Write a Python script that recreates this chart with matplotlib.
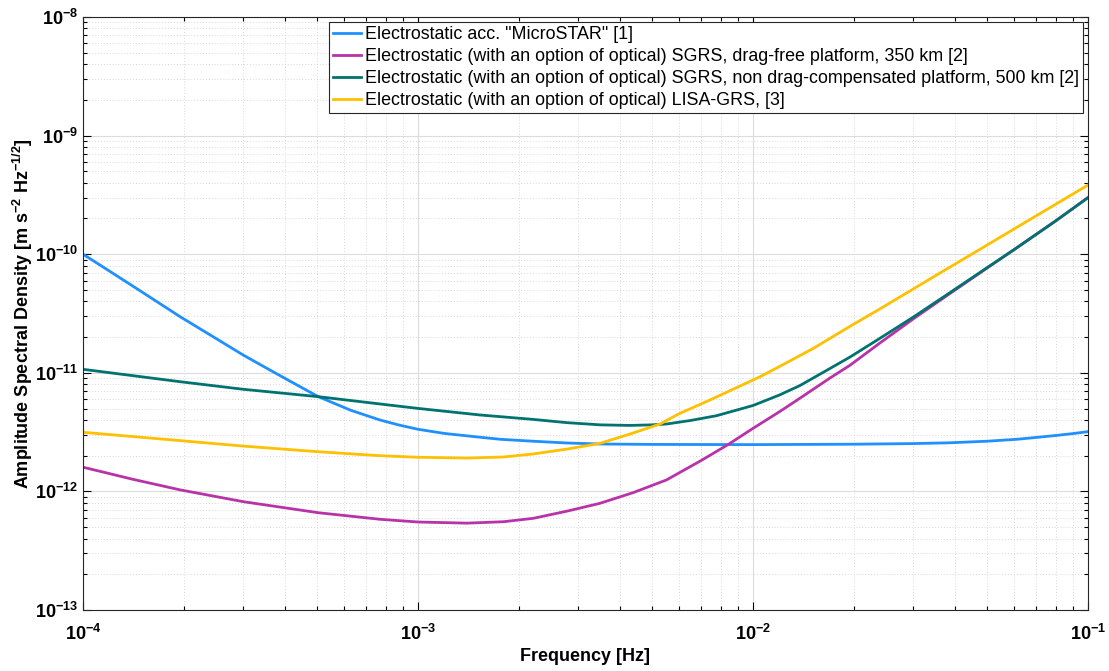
import numpy as np
import matplotlib
matplotlib.use("Agg")
import matplotlib.pyplot as plt
from matplotlib.ticker import FixedLocator, FuncFormatter, NullFormatter

plt.rcParams['font.family'] = ['Liberation Sans', 'DejaVu Sans']
plt.rcParams['mathtext.fontset'] = 'custom'
plt.rcParams['mathtext.rm'] = 'Liberation Sans'
plt.rcParams['mathtext.bf'] = 'Liberation Sans:bold'
plt.rcParams['mathtext.it'] = 'Liberation Sans:italic'

# values (frequency in Hz, ASD in m s^-2 Hz^-1/2)
microstar_f = [1.0e-4, 1.2e-4, 1.5e-4, 1.95e-4, 2.5e-4, 3.01e-4, 3.5e-4, 4.0e-4,
               5.04e-4, 6.3e-4, 7.7e-4, 8.8e-4, 1.0e-3, 1.2e-3, 1.5e-3, 1.76e-3,
               2.2e-3, 2.78e-3, 3.5e-3, 5.0e-3, 1.0e-2, 2.0e-2, 3.0e-2, 3.87e-2,
               5.0e-2, 6.12e-2, 7.0e-2, 8.0e-2, 9.0e-2, 1.0e-1]
microstar_asd = [1.0e-10, 7.2e-11, 4.8e-11, 2.97e-11, 1.94e-11, 1.41e-11, 1.11e-11, 9.0e-12,
                 6.29e-12, 4.83e-12, 4.0e-12, 3.62e-12, 3.34e-12, 3.08e-12, 2.88e-12, 2.75e-12,
                 2.65e-12, 2.56e-12, 2.51e-12, 2.49e-12, 2.48e-12, 2.50e-12, 2.53e-12, 2.57e-12,
                 2.65e-12, 2.75e-12, 2.85e-12, 2.96e-12, 3.07e-12, 3.19e-12]

sgrs350_f = [1.0e-4, 1.4e-4, 1.95e-4, 3.01e-4, 5.04e-4, 7.7e-4, 1.0e-3, 1.4e-3,
             1.8e-3, 2.21e-3, 2.8e-3, 3.49e-3, 4.4e-3, 5.52e-3, 7.0e-3, 8.44e-3,
             1.0e-2, 1.2e-2, 1.38e-2, 1.7e-2, 1.95e-2, 2.39e-2, 3.01e-2, 3.78e-2,
             5.1e-2, 5.98e-2, 8.0e-2, 1.0e-1]
sgrs350_asd = [1.60e-12, 1.27e-12, 1.03e-12, 8.19e-13, 6.61e-13, 5.82e-13, 5.52e-13, 5.40e-13,
               5.55e-13, 5.93e-13, 6.84e-13, 7.93e-13, 9.79e-13, 1.25e-12, 1.82e-12, 2.49e-12,
               3.40e-12, 4.70e-12, 6.1e-12, 9.06e-12, 1.16e-11, 1.78e-11, 2.85e-11, 4.45e-11,
               7.95e-11, 1.08e-10, 1.905e-10, 3.0e-10]

sgrs500_f = [1.0e-4, 1.4e-4, 1.95e-4, 3.01e-4, 5.04e-4, 7.7e-4, 1.0e-3, 1.53e-3,
             2.2e-3, 2.78e-3, 3.5e-3, 4.29e-3, 5.0e-3, 5.52e-3, 6.5e-3, 7.79e-3,
             1.0e-2, 1.2e-2, 1.38e-2, 1.7e-2, 1.95e-2, 2.39e-2, 3.01e-2, 3.78e-2,
             5.1e-2, 5.98e-2, 8.0e-2, 1.0e-1]
sgrs500_asd = [1.07e-11, 9.48e-12, 8.41e-12, 7.26e-12, 6.29e-12, 5.46e-12, 5.01e-12, 4.41e-12,
               4.05e-12, 3.80e-12, 3.64e-12, 3.60e-12, 3.64e-12, 3.70e-12, 3.96e-12, 4.35e-12,
               5.3e-12, 6.5e-12, 7.8e-12, 1.09e-11, 1.36e-11, 1.95e-11, 2.95e-11, 4.53e-11,
               8.0e-11, 1.08e-10, 1.905e-10, 3.0e-10]

lisa_f = [1.0e-4, 1.95e-4, 3.01e-4, 5.04e-4, 7.7e-4, 1.0e-3, 1.4e-3, 1.8e-3,
          2.21e-3, 2.8e-3, 3.49e-3, 4.3e-3, 5.28e-3, 6.0e-3, 7.44e-3, 1.05e-2,
          1.2e-2, 1.51e-2, 1.95e-2, 2.39e-2, 3.01e-2, 3.38e-2, 4.76e-2, 5.1e-2,
          6.71e-2, 1.0e-1]
lisa_asd = [3.15e-12, 2.68e-12, 2.41e-12, 2.16e-12, 2.00e-12, 1.94e-12, 1.91e-12, 1.95e-12,
            2.07e-12, 2.28e-12, 2.54e-12, 3.05e-12, 3.70e-12, 4.5e-12, 5.9e-12, 9.27e-12,
            1.13e-11, 1.6e-11, 2.47e-11, 3.45e-11, 5.09e-11, 6.2e-11, 1.10e-10, 1.236e-10,
            1.96e-10, 3.83e-10]

labels = ['Electrostatic acc. "MicroSTAR" [1]',
          'Electrostatic (with an option of optical) SGRS, drag-free platform, 350 km [2]',
          'Electrostatic (with an option of optical) SGRS, non drag-compensated platform, 500 km [2]',
          'Electrostatic (with an option of optical) LISA-GRS, [3]']
colors = ['#1E90FF', '#B832A8', '#007370', '#FFC000']

x_decades = [-4, -3, -2, -1]
y_decades = [-13, -12, -11, -10, -9, -8]

fig = plt.figure(figsize=(11.09, 6.71), dpi=100)
ax = fig.add_axes([83 / 1109, 1 - 610 / 671, (1088 - 83) / 1109, (610 - 17) / 671])

series = [(microstar_f, microstar_asd), (sgrs350_f, sgrs350_asd),
          (sgrs500_f, sgrs500_asd), (lisa_f, lisa_asd)]
for (f, a), lab, c in zip(series, labels, colors):
    ax.loglog(f, a, color=c, lw=2.0, label=lab, solid_joinstyle='round')

ax.set_xlim(1e-4, 1e-1)
ax.set_ylim(1e-13, 1e-8)

# major ticks only at the decades shown, minor at 2..9 inside the range
x_major = [10.0 ** d for d in x_decades]
y_major = [10.0 ** d for d in y_decades]
x_minor = [m * 10.0 ** d for d in x_decades[:-1] for m in range(2, 10)]
y_minor = [m * 10.0 ** d for d in y_decades[:-1] for m in range(2, 10)]
ax.xaxis.set_major_locator(FixedLocator(x_major))
ax.yaxis.set_major_locator(FixedLocator(y_major))
ax.xaxis.set_minor_locator(FixedLocator(x_minor))
ax.yaxis.set_minor_locator(FixedLocator(y_minor))
fmt = FuncFormatter(lambda v, p: r'$\mathbf{10^{%d}}$' % int(round(np.log10(v))))
ax.xaxis.set_major_formatter(fmt)
ax.yaxis.set_major_formatter(fmt)
ax.xaxis.set_minor_formatter(NullFormatter())
ax.yaxis.set_minor_formatter(NullFormatter())

ax.tick_params(which='both', direction='in', top=True, right=True, labelsize=13, width=0.8)
ax.tick_params(which='major', length=6)
ax.tick_params(which='minor', length=3)
ax.tick_params(axis='x', pad=10)

ax.grid(True, which='major', color='#dcdcdc', lw=0.8, ls='-')
ax.grid(True, which='minor', color='#d8d8d8', lw=0.7, ls=(0, (1, 2)))
ax.set_axisbelow(True)
for s in ax.spines.values():
    s.set_linewidth(0.8)
    s.set_color('#262626')

ax.set_xlabel('Frequency [Hz]', fontsize=13, fontweight='bold', labelpad=3)
ax.set_ylabel(r'Amplitude Spectral Density [m s$^{\mathbf{-2}}$ Hz$^{\mathbf{-1/2}}$]',
              fontsize=13, fontweight='bold', labelpad=0)

leg = ax.legend(loc='upper right', fontsize=12.9, frameon=True, fancybox=False,
                edgecolor='#262626', framealpha=1, borderaxespad=0.3,
                handlelength=1.6, handletextpad=0.2, borderpad=0.2, labelspacing=0.28)
leg.get_frame().set_linewidth(0.8)

fig.savefig('out.png', dpi=100)
